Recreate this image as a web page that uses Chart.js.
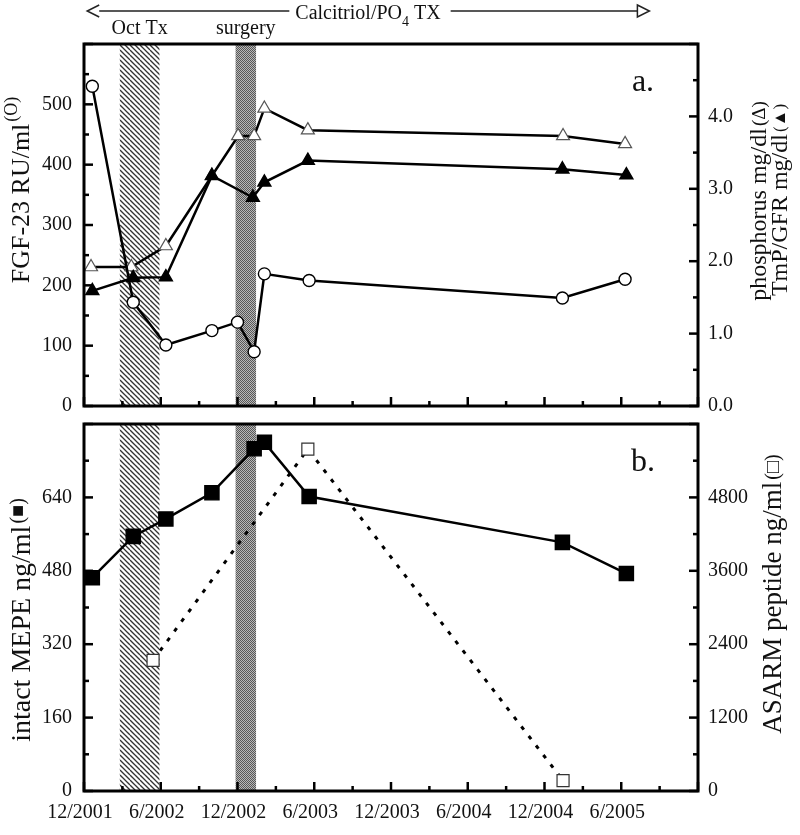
<!DOCTYPE html>
<html lang="en">
  <head>
    <meta charset="UTF-8" />
    <title>FGF-23, phosphorus, MEPE and ASARM over time</title>
    <script src="https://cdn.jsdelivr.net/npm/chart.js"></script>
    <style>
      body { margin: 0; background: #fff; }
      #wrap { position: relative; width: 800px; height: 835px; }
      canvas { position: absolute; left: 0; }
    </style>
  </head>
  <body>
    <div id="wrap">
      <canvas id="top" width="800" height="430" style="top:0"></canvas>
      <canvas id="bottom" width="800" height="435" style="top:400px"></canvas>
    </div>

    <script>
      // months counted from 12/2001
      const xLabels = ["12/2001", "6/2002", "12/2002", "6/2003", "12/2003", "6/2004", "12/2004", "6/2005"];

      // panel a
      const fgfX = [0.65, 3.85, 6.4, 10.0, 12.0, 13.3, 14.1, 17.6, 37.4, 42.3];
      const fgfY = [530, 172, 101, 125, 139, 90, 219, 208, 179, 210];
      const phosX = [0.55, 3.7, 6.4, 10.0, 12.05, 13.3, 14.1, 17.5, 37.45, 42.3];
      const phosY = [1.92, 1.92, 2.21, 3.18, 3.73, 3.73, 4.11, 3.81, 3.73, 3.62];
      const tmpX = [0.65, 3.85, 6.4, 10.0, 13.2, 14.1, 17.5, 37.4, 42.4];
      const tmpY = [1.59, 1.77, 1.78, 3.18, 2.88, 3.09, 3.39, 3.27, 3.19];

      // panel b
      const mepeX = [0.65, 3.85, 6.4, 10.0, 13.3, 14.1, 17.6, 37.4, 42.4];
      const mepeY = [465, 555, 593, 650, 746, 760, 642, 542, 474];
      const asarmX = [5.4, 17.5, 37.45];
      const asarmY = [2135, 5590, 170];

      // treatment periods (months)
      const octTx = [2.8, 5.9];
      const surgery = [11.85, 13.45];

      const FONT = '"Liberation Serif", "DejaVu Serif", serif';
      const pts = (xs, ys) => xs.map((x, i) => ({ x, y: ys[i] }));

      // -------- fill patterns -------- //
      function makeHatch() {
        const c = document.createElement("canvas");
        c.width = 10; c.height = 10;
        const g = c.getContext("2d");
        g.fillStyle = "#fff"; g.fillRect(0, 0, 10, 10);
        g.strokeStyle = "#333"; g.lineWidth = 1.3;
        for (const k of [-10, -5, 0, 5, 10]) {
          g.beginPath(); g.moveTo(0, k); g.lineTo(10, 10 + k); g.stroke();
        }
        return g.createPattern(c, "repeat");
      }
      function makeDots() {
        const c = document.createElement("canvas");
        c.width = 2; c.height = 2;
        const g = c.getContext("2d");
        g.fillStyle = "#b8b8b8"; g.fillRect(0, 0, 2, 2);
        g.fillStyle = "#585858"; g.fillRect(0, 0, 1, 1); g.fillRect(1, 1, 1, 1);
        return g.createPattern(c, "repeat");
      }
      const hatch = makeHatch();
      const dots = makeDots();

      // rotated axis title, reads bottom to top
      function vtitle(ctx, cx, cy, main, sup, size, supSize, raise) {
        ctx.save();
        ctx.translate(cx, cy);
        ctx.rotate(-Math.PI / 2);
        ctx.fillStyle = "#111";
        ctx.textBaseline = "middle";
        ctx.textAlign = "left";
        ctx.font = `${size}px ${FONT}`;
        const w1 = ctx.measureText(main).width;
        ctx.font = `${supSize}px ${FONT}`;
        const w2 = ctx.measureText(sup).width;
        const start = -(w1 + 2 + w2) / 2;
        ctx.font = `${size}px ${FONT}`;
        ctx.fillText(main, start, 0);
        ctx.font = `${supSize}px ${FONT}`;
        ctx.fillText(sup, start + w1 + 2, -raise);
        ctx.restore();
      }

      // bands, frame, inward tick marks, panel letter
      function panelPlugin(letter, drawExtras) {
        return {
          id: "panel" + letter,
          beforeDatasetsDraw(chart) {
            const { ctx, chartArea: a, scales } = chart;
            const x = scales.x;
            ctx.save();
            ctx.fillStyle = hatch;
            const o0 = x.getPixelForValue(octTx[0]), o1 = x.getPixelForValue(octTx[1]);
            ctx.fillRect(o0, a.top, o1 - o0, a.bottom - a.top);
            ctx.fillStyle = dots;
            const s0 = x.getPixelForValue(surgery[0]), s1 = x.getPixelForValue(surgery[1]);
            ctx.fillRect(s0, a.top, s1 - s0, a.bottom - a.top);
            ctx.restore();
          },
          afterDraw(chart) {
            const { ctx, chartArea: a } = chart;
            ctx.save();
            ctx.strokeStyle = "#000";
            ctx.lineWidth = 2.5;
            for (const s of Object.values(chart.scales)) {
              const vals = s.ticks.map((t) => t.value);
              const mids = vals.slice(1).map((v, i) => (v + vals[i]) / 2);
              const mark = (v, len) => {
                const p = s.getPixelForValue(v);
                ctx.beginPath();
                if (s.axis === "x") { ctx.moveTo(p, a.bottom); ctx.lineTo(p, a.bottom - len); }
                else if (s.position === "left") { ctx.moveTo(a.left, p); ctx.lineTo(a.left + len, p); }
                else { ctx.moveTo(a.right, p); ctx.lineTo(a.right - len, p); }
                ctx.stroke();
              };
              vals.forEach((v) => mark(v, 9));
              mids.forEach((v) => mark(v, 5));
            }
            ctx.lineWidth = 3;
            ctx.strokeRect(a.left, a.top, a.right - a.left, a.bottom - a.top);
            ctx.fillStyle = "#111";
            ctx.font = `32px ${FONT}`;
            ctx.textAlign = "center";
            ctx.textBaseline = "middle";
            ctx.fillText(letter, a.right - 55, a.top + 39);
            ctx.restore();
            drawExtras(chart);
          },
        };
      }

      const baseX = (showLabels) => ({
        type: "linear",
        min: 0,
        max: 48,
        grid: { display: false, drawTicks: false },
        border: { display: false },
        ticks: {
          display: showLabels,
          stepSize: 6,
          autoSkip: false,
          maxRotation: 0,
          padding: 10,
          labelOffset: -4,
          color: "#111",
          font: { family: FONT, size: 20 },
          callback: (v) => xLabels[v / 6] ?? "",
        },
        afterFit: (s) => { s.height = showLabels ? 44 : 0; },
      });

      const yAxis = (pos, max, step, fmt, width, pad) => ({
        type: "linear",
        position: pos,
        min: 0,
        max,
        grid: { display: false, drawTicks: false },
        border: { display: false },
        ticks: {
          stepSize: step,
          autoSkip: false,
          padding: pad,
          color: "#111",
          font: { family: FONT, size: 20 },
          callback: (v) => (v >= max ? "" : fmt(v)),
        },
        afterFit: (s) => { s.width = width; },
      });

      const lineSet = (data, axis, style, radius, fill, extra) => ({
        data,
        yAxisID: axis,
        borderColor: "#000",
        borderWidth: 2.5,
        pointStyle: style,
        pointRadius: radius,
        pointBackgroundColor: fill,
        pointBorderColor: "#000",
        pointBorderWidth: 1.4,
        tension: 0,
        ...extra,
      });

      // -------- panel a -------- //
      new Chart(document.getElementById("top"), {
        type: "line",
        data: {
          datasets: [
            lineSet(pts(tmpX, tmpY), "yR", "triangle", 7.5, "#000"),
            lineSet(pts(fgfX, fgfY), "yL", "circle", 6, "#fff"),
            lineSet(pts(phosX, phosY), "yR", "triangle", 7.5, "#fff", { pointBorderColor: "#555", pointBorderWidth: 1.2 }),
          ],
        },
        options: {
          responsive: false,
          animation: false,
          layout: { padding: { top: 44, bottom: 12, left: 0, right: 0 } },
          plugins: { legend: { display: false }, tooltip: { enabled: false } },
          scales: {
            x: baseX(false),
            yL: yAxis("left", 600, 100, (v) => v, 84, 12),
            yR: yAxis("right", 5, 1, (v) => v.toFixed(1), 102, 10),
          },
        },
        plugins: [
          panelPlugin("a.", (chart) => {
            const { ctx, scales } = chart;
            const x = scales.x;
            ctx.save();
            ctx.fillStyle = "#111";
            ctx.textAlign = "center";
            ctx.textBaseline = "middle";
            ctx.font = `20px ${FONT}`;
            ctx.fillText("Oct Tx", x.getPixelForValue((octTx[0] + octTx[1]) / 2), 29);
            ctx.fillText("surgery", x.getPixelForValue((surgery[0] + surgery[1]) / 2), 29);

            // treatment arrow across the top
            const ax0 = x.getPixelForValue(0.25), ax1 = x.getPixelForValue(44.2);
            const label = "Calcitriol/PO";
            const w1 = ctx.measureText(label).width;
            const w2 = ctx.measureText(" TX").width;
            ctx.font = `14px ${FONT}`;
            const w4 = ctx.measureText("4").width;
            const total = w1 + w4 + w2;
            const cx = 368, ay = 11;
            const t0 = cx - total / 2;
            ctx.textAlign = "left";
            ctx.font = `20px ${FONT}`;
            ctx.fillText(label, t0, 14);
            ctx.font = `14px ${FONT}`;
            ctx.fillText("4", t0 + w1, 22);
            ctx.font = `20px ${FONT}`;
            ctx.fillText(" TX", t0 + w1 + w4, 14);
            ctx.strokeStyle = "#222";
            ctx.lineWidth = 1.5;
            ctx.beginPath();
            ctx.moveTo(ax0 + 12, ay); ctx.lineTo(t0 - 6, ay);
            ctx.moveTo(t0 + total + 10, ay); ctx.lineTo(ax1 - 12, ay);
            ctx.stroke();
            // open arrowheads
            ctx.beginPath();
            ctx.moveTo(ax0 + 12, ay - 6); ctx.lineTo(ax0, ay); ctx.lineTo(ax0 + 12, ay + 6);
            ctx.stroke();
            ctx.beginPath();
            ctx.moveTo(ax1 - 12, ay - 6); ctx.lineTo(ax1, ay); ctx.lineTo(ax1 - 12, ay + 6); ctx.closePath();
            ctx.stroke();
            ctx.restore();

            vtitle(ctx, 22, 190, "FGF-23 RU/ml", "(O)", 26, 18, 10);
            vtitle(ctx, 760, 201, "phosphorus mg/dl", "(\u0394)", 24, 19, 0);
            vtitle(ctx, 781, 200, "TmP/GFR mg/dl", "(\u25B2)", 24, 17, 0);
          }),
        ],
      });

      // -------- panel b -------- //
      new Chart(document.getElementById("bottom"), {
        type: "line",
        data: {
          datasets: [
            lineSet(pts(mepeX, mepeY), "yL", "rect", 10, "#000"),
            lineSet(pts(asarmX, asarmY), "yR", "rect", 8.5, "#fff", {
              borderWidth: 3,
              borderDash: [4, 8],
              pointBorderWidth: 1.2,
              pointBorderColor: "#333",
            }),
          ],
        },
        options: {
          responsive: false,
          animation: false,
          layout: { padding: { top: 18, bottom: 0, left: 0, right: 0 } },
          plugins: { legend: { display: false }, tooltip: { enabled: false } },
          scales: {
            x: baseX(true),
            yL: yAxis("left", 800, 160, (v) => v, 84, 12),
            yR: yAxis("right", 6000, 1200, (v) => v, 102, 10),
          },
        },
        plugins: [
          panelPlugin("b.", (chart) => {
            const { ctx } = chart;
            vtitle(ctx, 23, 220, "intact MEPE ng/ml", "(\u25A0)", 28, 20, 4);
            vtitle(ctx, 774, 194, "ASARM peptide ng/ml", "(\u25A1)", 27, 20, 0);
          }),
        ],
      });
    </script>
  </body>
</html>
